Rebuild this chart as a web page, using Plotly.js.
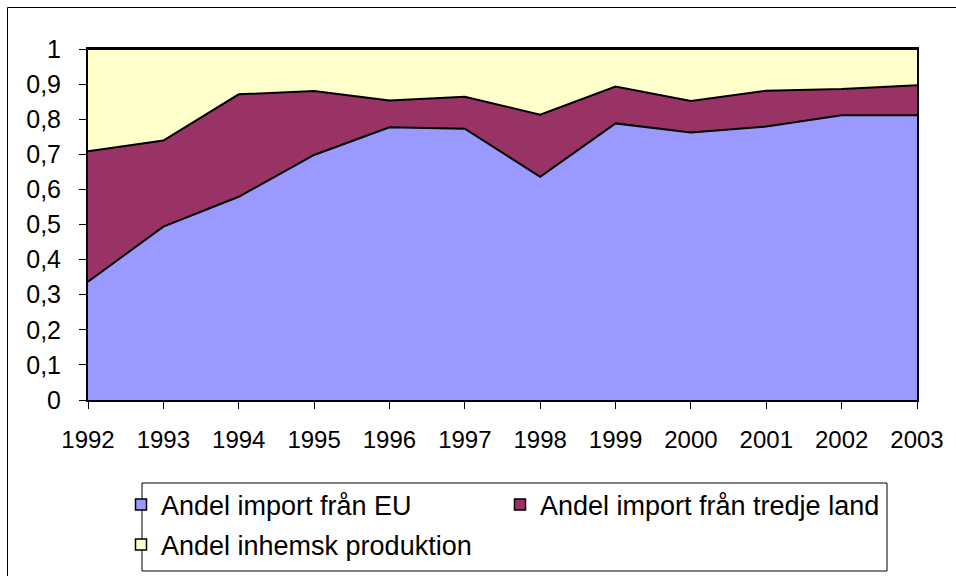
<!DOCTYPE html>
<html>
<head>
<meta charset="utf-8">
<script src="https://cdn.plot.ly/plotly-3.0.1.min.js"></script>
<style>
  html, body { margin: 0; padding: 0; background: #ffffff; }
  #chart { width: 956px; height: 576px; }
</style>
</head>
<body>
<div id="chart"></div>
<script>
// ---- data ----
var years = [1992, 1993, 1994, 1995, 1996, 1997, 1998, 1999, 2000, 2001, 2002, 2003];
// cumulative tops
var euShare    = [0.337, 0.494, 0.579, 0.698, 0.777, 0.773, 0.636, 0.788, 0.762, 0.779, 0.811, 0.811];
var thirdTop   = [0.709, 0.739, 0.871, 0.880, 0.853, 0.864, 0.813, 0.893, 0.852, 0.881, 0.886, 0.897];
var seriesNames = ['Andel import från EU', 'Andel import från tredje land', 'Andel inhemsk produktion'];
var seriesColors = ['#9999FF', '#993366', '#FFFFCC'];

var thirdShare = thirdTop.map(function (v, i) { return +(v - euShare[i]).toFixed(3); });
var domesticShare = thirdTop.map(function (v) { return +(1 - v).toFixed(3); });
var shares = [euShare, thirdShare, domesticShare];

var FONT = 'Liberation Sans, Arial, sans-serif';

var traces = [];
shares.forEach(function (vals, i) {
  traces.push({
    type: 'scatter', mode: 'lines', x: years, y: vals,
    stackgroup: 'one',
    line: { color: '#000000', width: 2 },
    fillcolor: seriesColors[i],
    showlegend: false, hoverinfo: 'skip'
  });
});
// legend entries with square markers
var legendIds = ['legend', 'legend2', 'legend3'];
seriesNames.forEach(function (name, i) {
  traces.push({
    type: 'scatter', mode: 'markers', x: [null], y: [null], name: name,
    marker: { symbol: 'square', size: 11, color: seriesColors[i], line: { color: '#000000', width: 1.5 } },
    showlegend: true, legend: legendIds[i], hoverinfo: 'skip'
  });
});

function px2x(p) { return (p - 88) / 829; }
function px2y(p) { return (400 - p) / 351; }

var legendBase = {
  bgcolor: 'rgba(0,0,0,0)', borderwidth: 0,
  font: { family: FONT, size: 27, color: '#000000' },
  xanchor: 'left', yanchor: 'middle', xref: 'paper', yref: 'paper'
};
function mkLegend(x, y) {
  var o = JSON.parse(JSON.stringify(legendBase));
  o.x = x; o.y = y; return o;
}

var layout = {
  width: 956, height: 576,
  margin: { l: 88, r: 39, t: 49, b: 176, autoexpand: false },
  paper_bgcolor: '#ffffff', plot_bgcolor: '#ffffff',
  separators: ', ',
  font: { family: FONT, size: 24, color: '#000000' },
  showlegend: true,
  legend: mkLegend(px2x(121), px2y(505)),
  legend2: mkLegend(px2x(500), px2y(505)),
  legend3: mkLegend(px2x(121), px2y(545)),
  xaxis: {
    type: 'linear', range: [1992, 2003], tickmode: 'linear', tick0: 1992, dtick: 1,
    showgrid: false, zeroline: false,
    showline: true, linecolor: '#000000', linewidth: 2, mirror: true,
    ticks: 'outside', ticklen: 7, tickcolor: '#000000', tickwidth: 1,
    ticklabelstandoff: 10,
    tickfont: { family: FONT, size: 24, color: '#000000' }
  },
  yaxis: {
    range: [0, 1], tickmode: 'linear', tick0: 0, dtick: 0.1,
    showgrid: false, zeroline: false,
    showline: true, linecolor: '#000000', linewidth: 2, mirror: true,
    ticks: 'outside', ticklen: 7, tickcolor: '#000000', tickwidth: 1,
    ticklabelstandoff: 13,
    tickfont: { family: FONT, size: 25, color: '#000000' }
  },
  shapes: [
    // legend box
    { type: 'rect', xref: 'paper', yref: 'paper',
      x0: px2x(142), x1: px2x(887), y0: px2y(483), y1: px2y(571),
      line: { color: '#000000', width: 1 }, fillcolor: 'rgba(0,0,0,0)', layer: 'above' },
    // outer chart border
    { type: 'rect', xref: 'paper', yref: 'paper',
      x0: px2x(7.5), x1: px2x(990), y0: px2y(600), y1: px2y(7.5),
      line: { color: '#000000', width: 1 }, fillcolor: 'rgba(0,0,0,0)', layer: 'above' }
  ]
};

Plotly.newPlot('chart', traces, layout, { displayModeBar: false, staticPlot: true });
</script>
</body>
</html>
